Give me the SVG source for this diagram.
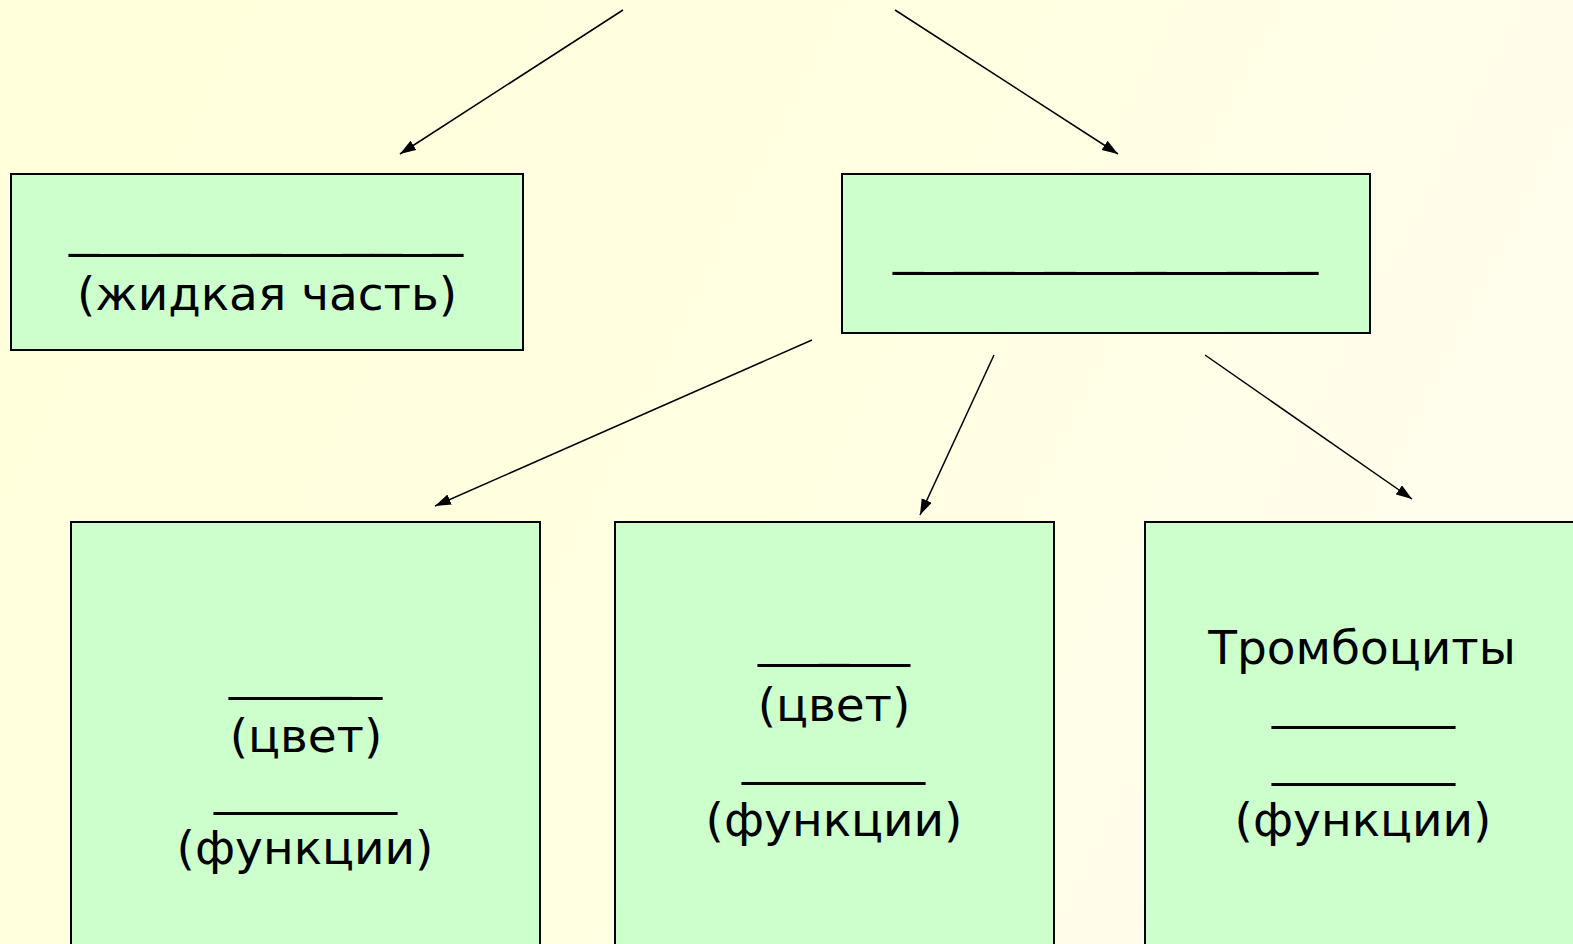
<svg xmlns="http://www.w3.org/2000/svg" width="1573" height="944" viewBox="0 0 1573 944">
  <defs>
    <linearGradient id="bg" x1="0" y1="0" x2="1" y2="0.3">
      <stop offset="0" stop-color="#FFFFDB"/>
      <stop offset="0.6" stop-color="#FFFFE2"/>
      <stop offset="1" stop-color="#FFFDEC"/>
    </linearGradient>
    <marker id="arrow" markerUnits="userSpaceOnUse" markerWidth="17" markerHeight="12" refX="16" refY="5.5" orient="auto">
      <path d="M0,0 L16,5.5 L0,11 Z" fill="#000"/>
    </marker>
    <style>
      .box { fill: #CCFFCC; stroke: #000; stroke-width: 2; }
      .t { font-family: "DejaVu Sans", Verdana, sans-serif; font-size: 47px; fill: #000; text-anchor: middle; }
      .u { font-family: "DejaVu Sans", Verdana, sans-serif; font-size: 45px; fill: #000; }
      .conn line { stroke: #000; stroke-width: 1.5; marker-end: url(#arrow); }
    </style>
  </defs>
  <rect x="0" y="0" width="1573" height="944" fill="url(#bg)"/>

  <g id="connectors" class="conn">
    <line x1="623" y1="10" x2="400" y2="154"/>
    <line x1="895" y1="10" x2="1118" y2="154"/>
    <line x1="812" y1="340" x2="435" y2="506"/>
    <line x1="994" y1="355" x2="920" y2="515"/>
    <line x1="1205" y1="355" x2="1412" y2="499"/>
  </g>

  <g id="plasma">
    <rect class="box" x="11" y="174" width="512" height="176"/>
    <text class="u" x="69" y="246" textLength="394" lengthAdjust="spacingAndGlyphs">_____________</text>
    <text class="t" x="267" y="310">(жидкая часть)</text>
  </g>

  <g id="cells">
    <rect class="box" x="842" y="174" width="528" height="159"/>
    <text class="u" x="893" y="264" textLength="425" lengthAdjust="spacingAndGlyphs">______________</text>
  </g>

  <g id="erythrocytes">
    <rect class="box" x="71" y="522" width="469" height="440"/>
    <text class="u" x="229" y="689" textLength="153" lengthAdjust="spacingAndGlyphs">_____</text>
    <text class="t" x="306" y="752">(цвет)</text>
    <text class="u" x="214" y="804" textLength="183" lengthAdjust="spacingAndGlyphs">______</text>
    <text class="t" x="305" y="864">(функции)</text>
  </g>

  <g id="leukocytes">
    <rect class="box" x="615" y="522" width="439" height="440"/>
    <text class="u" x="758" y="656" textLength="152" lengthAdjust="spacingAndGlyphs">_____</text>
    <text class="t" x="834" y="721">(цвет)</text>
    <text class="u" x="742" y="774" textLength="183" lengthAdjust="spacingAndGlyphs">______</text>
    <text class="t" x="834" y="836">(функции)</text>
  </g>

  <g id="platelets">
    <rect class="box" x="1145" y="522" width="450" height="440"/>
    <text class="t" x="1362" y="664">Тромбоциты</text>
    <text class="u" x="1272" y="718" textLength="183" lengthAdjust="spacingAndGlyphs">______</text>
    <text class="u" x="1272" y="775" textLength="183" lengthAdjust="spacingAndGlyphs">______</text>
    <text class="t" x="1363" y="836">(функции)</text>
  </g>
</svg>
